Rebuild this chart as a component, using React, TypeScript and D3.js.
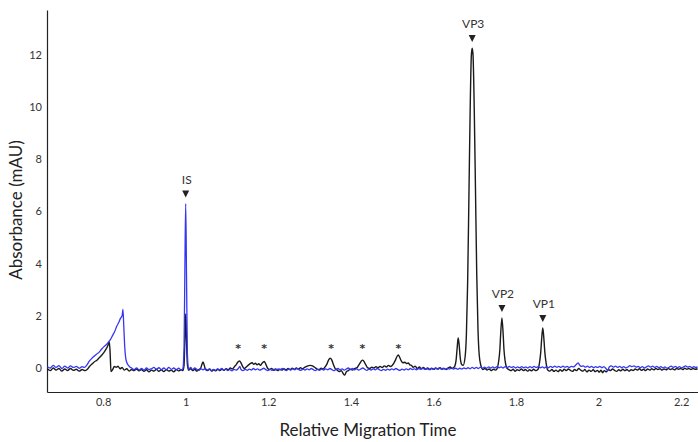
import React, { useEffect, useRef } from 'react';
import * as d3 from 'd3';

// electropherogram traces: [relative migration time, absorbance mAU]
const blackTrace: [number, number][] = [
  [0.665,-0.03],[0.672,-0.1],[0.679,0.0],[0.686,-0.08],[0.693,-0.02],[0.700,-0.12],[0.707,-0.04],[0.714,-0.1],[0.721,-0.02],[0.728,-0.09],
  [0.735,-0.05],[0.742,-0.12],[0.749,-0.06],[0.756,-0.1],[0.761,-0.06],[0.767,0.06],[0.773,0.15],[0.779,0.24],[0.785,0.3],[0.791,0.4],
  [0.797,0.5],[0.802,0.6],[0.807,0.72],[0.811,0.84],[0.815,1.0],[0.817,0.55],[0.819,-0.14],[0.823,-0.06],[0.827,0.06],[0.832,0.03],
  [0.836,0.07],[0.841,-0.03],[0.846,0.02],[0.851,-0.08],[0.857,-0.03],[0.863,-0.12],[0.869,-0.06],[0.875,-0.1],[0.881,-0.04],[0.887,-0.11],
  [0.893,-0.06],[0.899,-0.13],[0.905,-0.07],[0.911,-0.15],[0.917,-0.08],[0.923,-0.12],[0.929,-0.05],[0.935,-0.13],[0.941,-0.07],[0.947,-0.14],
  [0.953,-0.06],[0.959,-0.12],[0.965,-0.08],[0.971,-0.15],[0.977,-0.06],[0.983,-0.11],[0.989,-0.07],[0.993,-0.1],[0.996,0.1],[0.998,1.1],
  [1.0,2.07],[1.002,1.0],[1.004,0.15],[1.007,-0.08],[1.012,-0.03],[1.017,-0.1],[1.022,-0.05],[1.027,-0.12],[1.032,-0.06],[1.036,-0.02],
  [1.039,0.12],[1.042,0.23],[1.045,0.1],[1.048,-0.06],[1.053,-0.1],[1.058,-0.04],[1.063,-0.12],[1.068,-0.07],[1.073,-0.11],[1.078,-0.05],
  [1.083,-0.1],[1.088,-0.04],[1.093,-0.09],[1.098,-0.03],[1.103,-0.07],[1.108,0.0],[1.113,-0.04],[1.118,0.05],[1.122,0.12],[1.126,0.22],
  [1.13,0.27],[1.134,0.2],[1.138,0.06],[1.142,-0.02],[1.146,0.03],[1.151,0.1],[1.156,0.17],[1.161,0.2],[1.165,0.14],[1.169,0.18],
  [1.173,0.12],[1.177,0.16],[1.181,0.1],[1.185,0.18],[1.19,0.25],[1.194,0.15],[1.198,0.0],[1.203,-0.06],[1.208,-0.02],[1.213,-0.09],
  [1.218,-0.04],[1.223,-0.1],[1.228,-0.05],[1.233,-0.08],[1.238,-0.03],[1.243,-0.07],[1.248,-0.02],[1.253,-0.06],[1.258,-0.01],[1.263,-0.05],
  [1.268,0.0],[1.273,-0.04],[1.278,0.01],[1.283,-0.03],[1.288,0.02],[1.293,0.06],[1.298,0.09],[1.303,0.1],[1.308,0.07],[1.313,0.02],
  [1.318,-0.04],[1.323,-0.06],[1.328,-0.01],[1.333,-0.04],[1.338,0.05],[1.342,0.15],[1.346,0.3],[1.35,0.38],[1.354,0.3],[1.358,0.12],
  [1.362,-0.02],[1.367,-0.08],[1.372,-0.14],[1.377,-0.1],[1.381,-0.2],[1.385,-0.27],[1.389,-0.15],[1.394,-0.1],[1.399,-0.05],[1.404,-0.08],
  [1.409,-0.02],[1.414,0.0],[1.418,0.08],[1.422,0.18],[1.426,0.28],[1.429,0.3],[1.433,0.22],[1.437,0.1],[1.441,0.0],[1.446,-0.02],
  [1.451,0.03],[1.456,0.0],[1.461,0.05],[1.466,0.01],[1.471,0.06],[1.476,0.02],[1.481,0.08],[1.486,0.04],[1.491,0.1],[1.496,0.06],
  [1.5,0.1],[1.504,0.18],[1.508,0.3],[1.512,0.45],[1.515,0.5],[1.518,0.42],[1.522,0.28],[1.526,0.2],[1.531,0.22],[1.535,0.17],
  [1.539,0.19],[1.543,0.12],[1.547,0.1],[1.551,0.03],[1.556,0.07],[1.561,-0.02],[1.566,0.04],[1.571,-0.03],[1.576,0.02],[1.581,-0.05],
  [1.586,0.0],[1.591,-0.06],[1.596,-0.01],[1.601,-0.05],[1.606,0.0],[1.611,-0.04],[1.616,0.01],[1.621,-0.05],[1.626,-0.02],[1.631,-0.06],
  [1.636,0.0],[1.641,0.04],[1.645,-0.02],[1.649,0.02],[1.652,0.08],[1.655,0.3],[1.658,0.85],[1.66,1.15],[1.662,0.95],[1.665,0.4],
  [1.668,0.15],[1.672,0.1],[1.677,0.45],[1.68,1.3],[1.683,3.3],[1.686,6.5],[1.689,9.8],[1.692,12.0],[1.694,12.26],[1.696,12.0],
  [1.699,9.9],[1.702,6.8],[1.705,3.6],[1.708,1.5],[1.711,0.5],[1.715,0.1],[1.72,-0.06],[1.725,-0.02],[1.73,-0.08],[1.735,-0.04],
  [1.74,-0.1],[1.745,-0.05],[1.75,-0.08],[1.754,-0.03],[1.758,0.25],[1.761,0.7],[1.763,1.3],[1.766,1.92],[1.769,1.3],[1.771,0.7],
  [1.774,0.25],[1.778,0.0],[1.783,-0.06],[1.788,-0.1],[1.793,-0.05],[1.798,-0.12],[1.803,-0.07],[1.808,-0.1],[1.813,-0.04],[1.818,-0.1],
  [1.823,-0.06],[1.828,-0.12],[1.833,-0.07],[1.838,-0.11],[1.843,-0.05],[1.848,-0.1],[1.853,-0.06],[1.857,0.2],[1.86,0.6],[1.862,1.05],
  [1.865,1.53],[1.868,1.05],[1.87,0.6],[1.873,0.2],[1.877,-0.08],[1.882,-0.12],[1.887,-0.06],[1.892,-0.13],[1.897,-0.08],[1.902,-0.14],
  [1.907,-0.07],[1.912,-0.12],[1.917,-0.05],[1.922,-0.1],[1.927,-0.04],[1.932,-0.09],[1.937,-0.13],[1.942,-0.06],[1.947,-0.1],[1.952,-0.02],
  [1.957,-0.08],[1.962,-0.12],[1.967,-0.06],[1.972,-0.15],[1.977,-0.08],[1.982,-0.13],[1.987,-0.07],[1.992,-0.14],[1.997,-0.09],[2.002,-0.16],
  [2.006,-0.08],[2.01,-0.18],[2.014,-0.1],[2.019,-0.15],[2.024,-0.06],[2.029,-0.1],[2.034,-0.04],[2.039,-0.09],[2.044,-0.13],[2.049,-0.07],
  [2.054,-0.11],[2.059,-0.05],[2.064,-0.1],[2.069,-0.06],[2.074,-0.12],[2.079,-0.07],[2.084,-0.1],[2.089,-0.04],[2.094,-0.08],[2.099,-0.03],
  [2.104,-0.09],[2.109,-0.05],[2.114,-0.1],[2.119,-0.04],[2.124,-0.08],[2.129,-0.03],[2.134,-0.07],[2.139,-0.02],[2.144,-0.06],[2.149,-0.03],
  [2.154,-0.08],[2.159,-0.04],[2.164,-0.07],[2.169,-0.02],[2.174,-0.06],[2.179,-0.03],[2.184,-0.07],[2.189,-0.02],[2.194,-0.05],[2.199,-0.02],
  [2.204,-0.06],[2.209,-0.01],[2.214,-0.05],[2.219,-0.02],[2.224,-0.06],[2.229,-0.02],[2.234,-0.05],[2.24,-0.03],
];

const blueTrace: [number, number][] = [
  [0.665,0.05],[0.672,0.0],[0.679,0.1],[0.686,0.02],[0.693,0.09],[0.700,-0.02],[0.707,0.07],[0.714,0.0],[0.721,0.08],[0.728,0.02],
  [0.735,0.06],[0.742,-0.01],[0.749,0.05],[0.755,0.02],[0.76,0.1],[0.766,0.25],[0.772,0.36],[0.778,0.45],[0.784,0.53],[0.79,0.6],
  [0.796,0.72],[0.802,0.82],[0.808,0.9],[0.813,1.0],[0.818,1.1],[0.823,1.25],[0.828,1.4],[0.833,1.6],[0.838,1.75],[0.842,1.9],
  [0.846,2.0],[0.848,2.25],[0.85,1.6],[0.852,0.9],[0.855,0.35],[0.859,0.15],[0.864,0.05],[0.869,0.0],[0.875,-0.06],[0.881,0.0],
  [0.887,-0.07],[0.893,-0.02],[0.899,-0.08],[0.905,0.0],[0.911,-0.06],[0.917,-0.03],[0.923,0.02],[0.929,-0.05],[0.935,0.01],[0.941,-0.06],
  [0.947,0.0],[0.953,-0.07],[0.959,0.02],[0.965,-0.05],[0.971,0.0],[0.977,-0.06],[0.983,-0.01],[0.989,-0.08],[0.993,-0.03],[0.996,0.8],
  [0.998,3.8],[1.0,6.3],[1.002,3.5],[1.004,0.6],[1.007,-0.05],[1.012,0.02],[1.017,-0.06],[1.022,0.0],[1.027,-0.05],[1.032,-0.09],
  [1.037,-0.03],[1.042,-0.07],[1.047,-0.02],[1.052,-0.08],[1.057,-0.04],[1.062,-0.1],[1.067,-0.05],[1.072,-0.09],[1.077,-0.03],[1.082,-0.07],
  [1.087,-0.02],[1.092,-0.08],[1.097,-0.04],[1.102,-0.1],[1.107,-0.06],[1.112,-0.11],[1.117,-0.05],[1.122,-0.08],[1.127,-0.03],[1.131,0.06],
  [1.134,-0.06],[1.139,-0.1],[1.144,-0.05],[1.149,-0.09],[1.154,-0.04],[1.159,-0.08],[1.164,-0.02],[1.169,-0.07],[1.174,-0.03],[1.179,-0.08],
  [1.184,-0.05],[1.189,-0.01],[1.194,-0.06],[1.199,-0.1],[1.204,-0.05],[1.209,-0.09],[1.214,-0.04],[1.219,-0.08],[1.224,-0.03],[1.229,-0.07],
  [1.234,-0.02],[1.239,-0.06],[1.244,-0.1],[1.249,-0.04],[1.254,-0.08],[1.259,-0.03],[1.264,-0.07],[1.269,-0.02],[1.274,-0.06],[1.279,-0.09],
  [1.284,-0.04],[1.289,-0.08],[1.294,-0.03],[1.299,-0.07],[1.304,-0.02],[1.309,-0.06],[1.314,-0.1],[1.319,-0.05],[1.324,-0.09],[1.329,-0.04],
  [1.334,-0.08],[1.339,-0.03],[1.344,-0.07],[1.349,-0.02],[1.354,-0.06],[1.359,-0.1],[1.364,-0.05],[1.369,-0.02],[1.374,-0.07],[1.379,-0.03],
  [1.384,-0.08],[1.389,-0.04],[1.394,0.0],[1.399,-0.06],[1.404,-0.02],[1.409,-0.07],[1.414,-0.03],[1.419,-0.08],[1.424,-0.04],[1.429,0.0],
  [1.434,-0.05],[1.439,-0.09],[1.444,-0.04],[1.449,-0.08],[1.454,-0.03],[1.459,-0.07],[1.464,-0.02],[1.469,-0.06],[1.474,-0.1],[1.479,-0.05],
  [1.484,-0.09],[1.489,-0.04],[1.494,-0.08],[1.499,-0.03],[1.504,-0.07],[1.509,-0.02],[1.514,-0.06],[1.519,-0.09],[1.524,-0.04],[1.529,-0.08],
  [1.534,-0.03],[1.539,-0.07],[1.544,-0.02],[1.549,-0.06],[1.554,-0.03],[1.559,-0.07],[1.564,-0.02],[1.569,-0.05],[1.574,-0.01],[1.579,-0.05],
  [1.584,-0.02],[1.589,-0.06],[1.594,-0.02],[1.599,-0.05],[1.604,-0.01],[1.609,-0.04],[1.614,0.0],[1.619,-0.04],[1.624,-0.01],[1.629,-0.05],
  [1.634,-0.01],[1.639,-0.04],[1.644,0.0],[1.649,-0.04],[1.654,-0.01],[1.659,-0.05],[1.664,-0.01],[1.669,-0.04],[1.674,0.0],[1.679,-0.03],
  [1.684,0.01],[1.689,-0.03],[1.694,0.02],[1.699,-0.02],[1.704,0.02],[1.709,-0.02],[1.714,0.03],[1.719,-0.01],[1.724,0.03],[1.729,-0.01],
  [1.734,0.04],[1.739,0.0],[1.744,0.04],[1.749,0.0],[1.754,0.05],[1.759,0.01],[1.764,0.04],[1.769,0.0],[1.774,0.05],[1.779,0.01],
  [1.784,0.06],[1.789,0.02],[1.794,0.05],[1.799,0.0],[1.804,0.04],[1.809,0.01],[1.814,0.05],[1.819,0.01],[1.824,0.04],[1.829,0.0],
  [1.834,0.05],[1.839,0.01],[1.844,0.06],[1.849,0.02],[1.854,0.05],[1.859,0.01],[1.864,0.04],[1.869,0.0],[1.874,0.05],[1.879,0.01],
  [1.884,0.06],[1.889,0.02],[1.894,0.07],[1.899,0.03],[1.904,0.06],[1.909,0.02],[1.914,0.07],[1.919,0.03],[1.924,0.06],[1.929,0.02],
  [1.934,0.06],[1.939,0.04],[1.944,0.1],[1.948,0.16],[1.951,0.2],[1.954,0.12],[1.958,0.06],[1.963,0.08],[1.968,0.03],[1.973,0.07],
  [1.978,0.02],[1.983,0.06],[1.988,0.01],[1.993,0.05],[1.998,0.02],[2.003,0.06],[2.008,0.01],[2.013,0.05],[2.018,-0.02],[2.022,-0.1],
  [2.026,0.04],[2.031,0.08],[2.036,0.03],[2.041,0.07],[2.046,0.02],[2.051,0.06],[2.056,0.01],[2.061,0.05],[2.066,0.0],[2.071,0.04],
  [2.076,0.09],[2.081,0.05],[2.086,0.08],[2.091,0.03],[2.096,0.06],[2.101,0.01],[2.106,0.05],[2.111,0.0],[2.116,0.04],[2.121,0.08],
  [2.126,0.03],[2.131,0.07],[2.136,0.02],[2.141,0.06],[2.146,0.01],[2.151,0.05],[2.156,0.0],[2.161,0.04],[2.166,-0.01],[2.171,0.03],
  [2.176,0.07],[2.181,0.02],[2.186,0.06],[2.191,0.01],[2.196,0.05],[2.201,0.0],[2.206,0.04],[2.211,0.08],[2.216,0.03],[2.221,0.06],
  [2.226,0.01],[2.231,0.05],[2.236,0.02],[2.24,0.04],
];

// labelled peaks (arrow + name) and the minor peaks marked with *
const peakNames = ['IS', 'VP3', 'VP2', 'VP1'];
const peakTimes = [1.0, 1.694, 1.766, 1.865];
const peakHeights = [6.3, 12.26, 1.92, 1.53];
const starTimes = [1.127, 1.19, 1.352, 1.428, 1.515];
const starLevel = 0.6;

const xTicks = [0.8, 1, 1.2, 1.4, 1.6, 1.8, 2, 2.2];
const yTicks = [0, 2, 4, 6, 8, 10, 12];

const Chart = () => {
  const chartRef = useRef<HTMLDivElement>(null);

  useEffect(() => {
    const width = 698;
    const height = 442;
    const font = 'Lato, "Open Sans", sans-serif';

    const svg = d3.select(chartRef.current)
      .append('svg')
      .attr('width', width)
      .attr('height', height)
      .style('display', 'block');

    const x = d3.scaleLinear().domain([0.664, 2.241]).range([47, 698]);
    const y = d3.scaleLinear().domain([-0.92, 13.72]).range([392, 10]);

    // axes, no tick marks
    const xAxis = svg.append('g')
      .attr('transform', 'translate(0,392)')
      .call(d3.axisBottom(x).tickValues(xTicks).tickSize(0).tickPadding(6).tickFormat((d) => String(d)));
    const yAxis = svg.append('g')
      .attr('transform', 'translate(47,0)')
      .call(d3.axisLeft(y).tickValues(yTicks).tickSize(0).tickPadding(5).tickFormat((d) => String(d)));

    [xAxis, yAxis].forEach((g) => {
      g.select('.domain').attr('stroke', '#222').attr('stroke-width', 1.2);
      g.selectAll('text').attr('font-family', font).attr('font-size', 11).attr('fill', '#333');
    });

    const line = d3.line<[number, number]>()
      .x((d) => x(d[0]))
      .y((d) => y(d[1]))
      .curve(d3.curveMonotoneX);

    svg.append('path')
      .datum(blackTrace)
      .attr('d', line)
      .attr('fill', 'none')
      .attr('stroke', '#1a1a1a')
      .attr('stroke-width', 1.4);

    svg.append('path')
      .datum(blueTrace)
      .attr('d', line)
      .attr('fill', 'none')
      .attr('stroke', '#3535f5')
      .attr('stroke-width', 1.3);

    // peak arrows + labels
    peakNames.forEach((name, i) => {
      const px = x(peakTimes[i]);
      const tip = y(peakHeights[i]) - 6;
      svg.append('path')
        .attr('d', `M${px - 3.5},${tip - 7}L${px + 3.5},${tip - 7}L${px},${tip}Z`)
        .attr('fill', '#222');
      svg.append('text')
        .attr('x', px + 1)
        .attr('y', tip - 14)
        .attr('text-anchor', 'middle')
        .attr('font-family', font)
        .attr('font-size', 12)
        .attr('fill', '#333')
        .text(name);
    });

    svg.selectAll('.star')
      .data(starTimes)
      .enter()
      .append('text')
      .attr('class', 'star')
      .attr('x', (d) => x(d))
      .attr('y', y(starLevel))
      .attr('text-anchor', 'middle')
      .attr('font-family', '"DejaVu Sans", sans-serif')
      .attr('font-size', 11)
      .attr('font-weight', 'bold')
      .attr('fill', '#333')
      .text('*');

    svg.append('text')
      .attr('transform', 'translate(22,210) rotate(-90)')
      .attr('text-anchor', 'middle')
      .attr('font-family', font)
      .attr('font-size', 17)
      .attr('fill', '#222')
      .text('Absorbance (mAU)');

    svg.append('text')
      .attr('x', 368)
      .attr('y', 436)
      .attr('text-anchor', 'middle')
      .attr('font-family', font)
      .attr('font-size', 17)
      .attr('fill', '#222')
      .text('Relative Migration Time');

    return () => {
      d3.select(chartRef.current).selectAll('svg').remove();
    };
  }, []);

  return <div ref={chartRef} style={{ position: 'absolute', left: 0, top: 0 }} />;
};

export default function App() {
  return <Chart />;
}
